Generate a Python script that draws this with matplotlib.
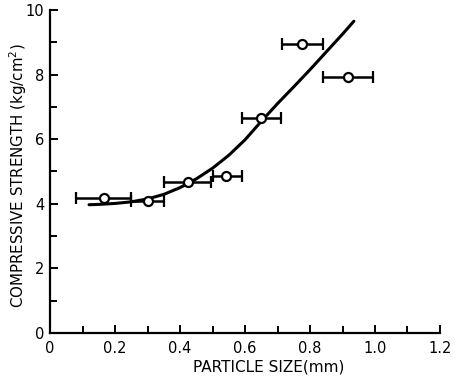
import matplotlib
matplotlib.use("Agg")
import matplotlib.pyplot as plt
import numpy as np

# Data points (particle size mm, compressive strength kg/cm2)
size = [0.166, 0.300, 0.425, 0.540, 0.650, 0.776, 0.918]
strength = [4.18, 4.08, 4.67, 4.86, 6.65, 8.95, 7.93]
size_low = [0.080, 0.250, 0.350, 0.500, 0.590, 0.713, 0.840]
size_high = [0.250, 0.350, 0.495, 0.590, 0.710, 0.840, 0.993]

# Fitted curve
curve_x = [0.12, 0.15, 0.20, 0.25, 0.30, 0.35, 0.40, 0.45, 0.50, 0.55,
           0.60, 0.65, 0.70, 0.75, 0.80, 0.85, 0.90, 0.935]
curve_y = [3.97, 3.98, 4.01, 4.06, 4.15, 4.29, 4.50, 4.77, 5.10, 5.50,
           5.98, 6.55, 7.10, 7.62, 8.15, 8.70, 9.25, 9.65]

x_ticks = [0, 0.2, 0.4, 0.6, 0.8, 1.0, 1.2]
x_ticklabels = ["0", "0.2", "0.4", "0.6", "0.8", "1.0", "1.2"]
y_ticks = [0, 2, 4, 6, 8, 10]
y_ticklabels = ["0", "2", "4", "6", "8", "10"]

plt.rcParams['font.family'] = ['DejaVu Sans']

fig = plt.figure(figsize=(4.55, 3.81), dpi=100)
ax = fig.add_axes([0.110, 0.126, 0.857, 0.848])

ax.plot(curve_x, curve_y, color='black', lw=2.2, solid_capstyle='round', zorder=3)

xerr = [np.array(size) - np.array(size_low), np.array(size_high) - np.array(size)]
ax.errorbar(size, strength, xerr=xerr, fmt='o', mfc='white', mec='black',
            mew=1.6, ms=6.5, ecolor='black', elinewidth=1.8, capsize=4.5,
            capthick=1.8, color='black', zorder=4)

ax.set_xlim(0, 1.2)
ax.set_ylim(0, 10)
ax.spines['top'].set_visible(False)
ax.spines['right'].set_visible(False)
ax.spines['left'].set_linewidth(1.6)
ax.spines['bottom'].set_linewidth(1.6)

ax.set_xticks(x_ticks)
ax.set_xticklabels(x_ticklabels)
ax.set_yticks(y_ticks)
ax.set_yticklabels(y_ticklabels)
ax.set_xticks(np.arange(0.1, 1.2, 0.2), minor=True)
ax.set_yticks(np.arange(1, 10, 2), minor=True)
ax.tick_params(axis='both', which='both', direction='in', width=1.4,
               labelsize=10.5, colors='black')
ax.tick_params(axis='both', which='major', length=6)
ax.tick_params(axis='both', which='minor', length=5)
ax.tick_params(axis='x', pad=6)
ax.tick_params(axis='y', pad=4)

ax.set_xlabel("PARTICLE SIZE(mm)", fontsize=11, va='top')
ax.xaxis.set_label_coords(0.56, -0.083)
ax.set_ylabel("COMPRESSIVE STRENGTH (kg/cm$^2$)", fontsize=10.8)
ax.yaxis.set_label_coords(-0.054, 0.486)

fig.savefig("out.png", dpi=100, facecolor='white')
